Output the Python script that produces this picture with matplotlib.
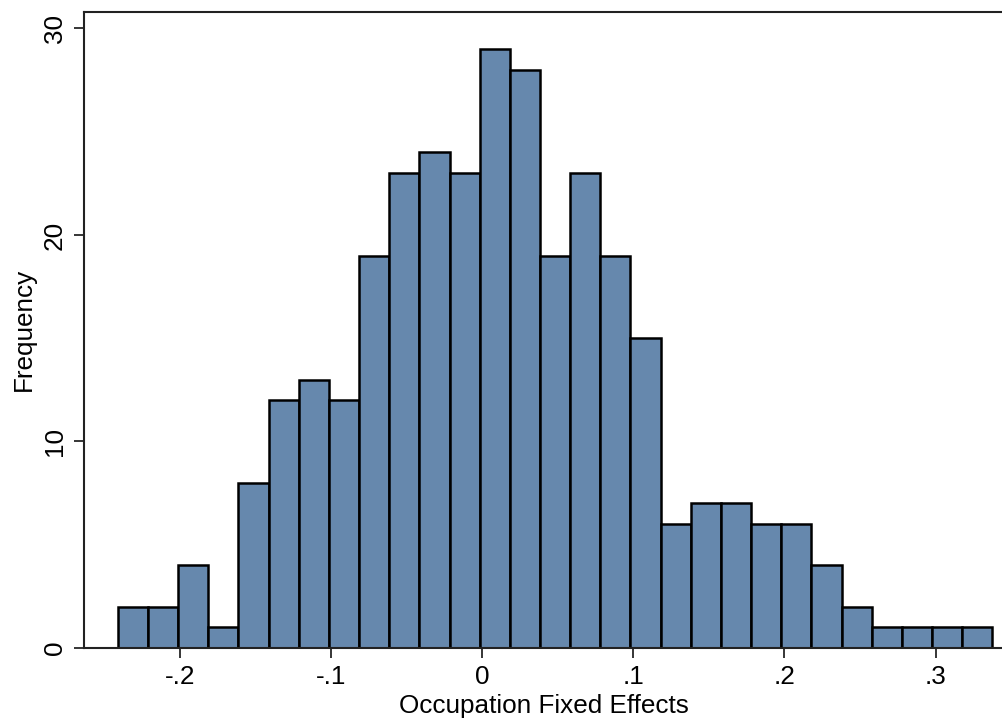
import matplotlib
matplotlib.use('Agg')
import matplotlib.pyplot as plt
import numpy as np

# histogram of occupation fixed effects
counts = [2, 2, 4, 1, 8, 12, 13, 12, 19, 23, 24, 23, 29, 28, 19,
          23, 19, 15, 6, 7, 7, 6, 6, 4, 2, 1, 1, 1, 1]
bin_left = -0.2415
bin_width = 0.01997
xticks = [-0.2, -0.1, 0.0, 0.1, 0.2, 0.3]
xtick_labels = ['-.2', '-.1', '0', '.1', '.2', '.3']
yticks = [0, 10, 20, 30]

plt.rcParams['font.family'] = ['Liberation Sans', 'DejaVu Sans']

fig = plt.figure(figsize=(10.03, 7.21), dpi=100)
ax = fig.add_axes([84/1003, 73/721, 919/1003, 636.3/721])

lefts = bin_left + bin_width*np.arange(len(counts))
ax.bar(lefts, counts, width=bin_width, align='edge',
       color='#6688AD', edgecolor='black', linewidth=1.8)

ax.set_xlim(-0.2639, 0.3447)
ax.set_ylim(0, 30.81)
ax.set_xticks(xticks)
ax.set_xticklabels(xtick_labels)
ax.set_yticks(yticks)
ax.set_yticklabels([str(v) for v in yticks], rotation=90, va='center')

ax.spines['right'].set_visible(False)
for s in ['left', 'top', 'bottom']:
    ax.spines[s].set_linewidth(1.5)
    ax.spines[s].set_color('#222222')
ax.tick_params(length=7.5, width=1.1, labelsize=18.8, pad=5)

ax.set_xlabel('Occupation Fixed Effects', fontsize=18.8, labelpad=3)
ax.set_ylabel('Frequency', fontsize=18.8, labelpad=5)

fig.savefig('out.png', dpi=100)
